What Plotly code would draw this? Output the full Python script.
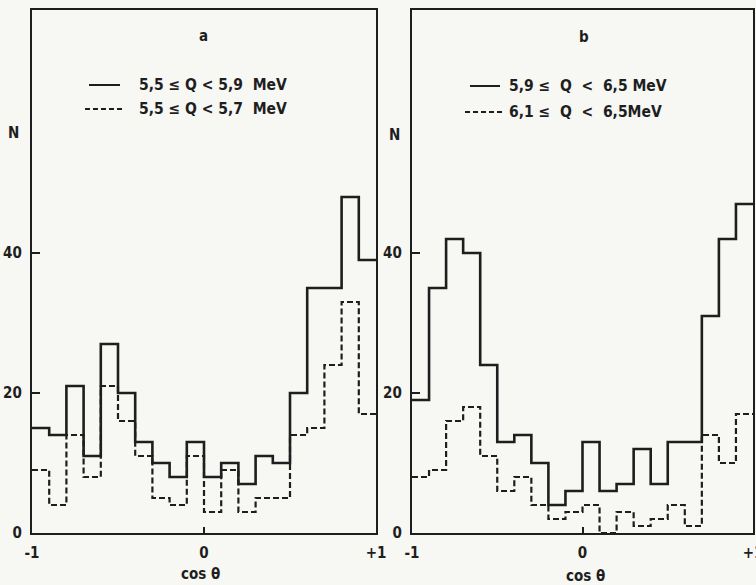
import numpy as np
import plotly.graph_objects as go

# ---- data ----
bin_edges_cos = np.linspace(-1, 1, 21)  # 20 bins of width 0.1 in cos(theta)

a_solid = [15, 14, 21, 11, 27, 20, 13, 10, 8, 13, 8, 10, 7, 11, 10, 20, 35, 35, 48, 39]
a_dashed = [9, 4, 14, 8, 21, 16, 11, 5, 4, 11, 3, 9, 3, 5, 5, 14, 15, 24, 33, 17]
b_solid = [19, 35, 42, 40, 24, 13, 14, 10, 4, 6, 13, 6, 7, 12, 7, 13, 13, 31, 42, 47]
b_dashed = [8, 9, 16, 18, 11, 6, 8, 4, 2, 3, 4, 0, 3, 1, 2, 4, 1, 14, 10, 17]

panel_labels = ["a", "b"]
legend_a = ["5,5 ≤ Q < 5,9  MeV", "5,5 ≤ Q < 5,7  MeV"]
legend_b = ["5,9 ≤  Q  <  6,5 MeV", "6,1 ≤  Q  <  6,5MeV"]
y_ticks = [0, 20, 40]
x_ticks = [-1, 0, 1]
x_ticktext = ["-1", "0", "+1"]

W, H = 756, 585
INK = "#1e1e1e"
BG = "#f7f7f4"
FONT = "DejaVu Sans Condensed, DejaVu Sans"


def px(x):
    return x / W


def py(y):
    return 1 - y / H


def steps(vals):
    return list(bin_edges_cos), list(vals) + [vals[-1]]


fig = go.Figure()

for xa, ya, solid, dashed in [("x", "y", a_solid, a_dashed), ("x2", "y2", b_solid, b_dashed)]:
    xs, ys = steps(dashed)
    fig.add_trace(go.Scatter(x=xs, y=ys, mode="lines", line_shape="hv",
                             line=dict(color=INK, width=2.2, dash="6px,3px"),
                             xaxis=xa, yaxis=ya, showlegend=False, hoverinfo="skip"))
    xs, ys = steps(solid)
    fig.add_trace(go.Scatter(x=xs, y=ys, mode="lines", line_shape="hv",
                             line=dict(color=INK, width=2.6),
                             xaxis=xa, yaxis=ya, showlegend=False, hoverinfo="skip"))

ytop = (533 - 10) / 7.0
ydom = [py(533), py(10)]
tickfont = dict(family=FONT, size=15, color=INK, weight="bold")
common_x = dict(range=[-1, 1], tickvals=x_ticks, ticktext=x_ticktext, ticks="inside",
                ticklen=6, tickwidth=2, tickcolor=INK, showline=True, linewidth=2.2,
                linecolor=INK, mirror=True, showgrid=False, zeroline=False,
                tickfont=tickfont, ticklabelstandoff=5, automargin=False,
                ticklabeloverflow="allow")
common_y = dict(range=[0, ytop], tickvals=y_ticks, ticks="inside", ticklen=8, tickwidth=2,
                tickcolor=INK, showline=True, linewidth=2.2, linecolor=INK, mirror=True,
                showgrid=False, zeroline=False,
                tickfont=tickfont, ticklabelstandoff=5, automargin=False,
                ticklabeloverflow="allow")

fig.update_layout(
    width=W, height=H,
    margin=dict(l=0, r=0, t=0, b=0, autoexpand=False),
    paper_bgcolor=BG, plot_bgcolor=BG,
    showlegend=False,
    xaxis=dict(domain=[px(32), px(376)], anchor="y", **common_x),
    yaxis=dict(domain=ydom, anchor="x", **common_y),
    xaxis2=dict(domain=[px(412), px(753)], anchor="y2", **common_x),
    yaxis2=dict(domain=ydom, anchor="x2", **common_y),
)

ann = []
shapes = []


def text(x, y, s, anchor="center", size=15):
    ann.append(dict(x=px(x), y=py(y), xref="paper", yref="paper", text=s, showarrow=False,
                    xanchor=anchor, yanchor="middle",
                    font=dict(family=FONT, size=size, color=INK, weight="bold")))


def seg(x0, x1, y, dash=None):
    shapes.append(dict(type="line", xref="paper", yref="paper", x0=px(x0), x1=px(x1),
                       y0=py(y), y1=py(y),
                       line=dict(color=INK, width=2, dash=dash or "solid")))


# panel a
text(203, 36, panel_labels[0], size=15)
seg(89, 120, 85)
seg(85, 122, 109, "5px,3px")
text(137, 85, legend_a[0], "left", size=15.5)
text(137, 109, legend_a[1], "left", size=15.5)
text(13, 133, "N", size=15)
text(200, 574, "cos θ", size=15)

# panel b
text(584, 37, panel_labels[1], size=15)
seg(470, 500, 86)
seg(465, 503, 112, "5px,3px")
text(507, 86, legend_b[0], "left", size=15.5)
text(507, 112, legend_b[1], "left", size=15.5)
text(395, 135, "N", size=15)
text(585, 576, "cos θ", size=15)

fig.update_layout(annotations=ann, shapes=shapes)
fig.write_html(
    "out.html",
    config={"displayModeBar": False},
    post_script="document.body.style.margin='0';document.body.style.overflow='hidden';",
)
